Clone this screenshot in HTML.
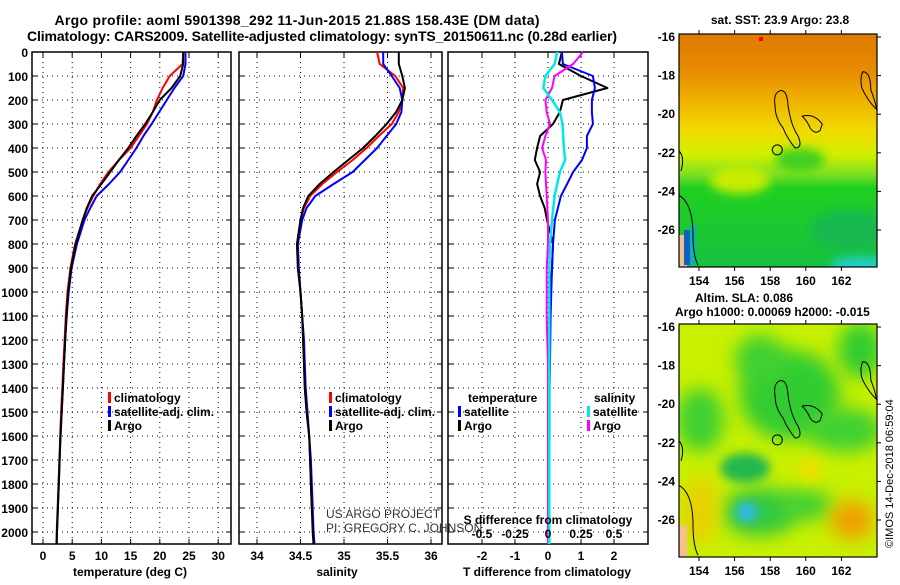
<!DOCTYPE html>
<html><head><meta charset="utf-8"><style>
body{margin:0;background:#fff;}
svg text{font-family:"Liberation Sans",sans-serif;font-weight:bold;font-size:12px;fill:#000;}
</style></head><body>
<svg id="c" width="900" height="580" viewBox="0 0 900 580" xmlns="http://www.w3.org/2000/svg">
<defs>
<filter id="bl" x="-50%" y="-50%" width="200%" height="200%"><feGaussianBlur stdDeviation="9"/></filter>
<filter id="bl2" x="-50%" y="-50%" width="200%" height="200%"><feGaussianBlur stdDeviation="5"/></filter>
<linearGradient id="sst" x1="0" y1="0" x2="0" y2="1">
<stop offset="0" stop-color="#e07a00"/><stop offset="0.15" stop-color="#e68a00"/><stop offset="0.28" stop-color="#f0b000"/>
<stop offset="0.42" stop-color="#f0dc00"/><stop offset="0.52" stop-color="#d0f000"/><stop offset="0.6" stop-color="#80e020"/>
<stop offset="0.66" stop-color="#20d020"/><stop offset="1" stop-color="#18c040"/></linearGradient>
<clipPath id="m1"><rect x="679" y="34" width="198" height="233"/></clipPath>
<clipPath id="m2"><rect x="679" y="324" width="198" height="233"/></clipPath>
</defs>
<text x="297" y="25" text-anchor="middle" style="font-size:14px" textLength="485">Argo profile: aoml 5901398_292 11-Jun-2015 21.88S 158.43E (DM data)</text>
<text x="322" y="41" text-anchor="middle" style="font-size:14px" textLength="590">Climatology: CARS2009. Satellite-adjusted climatology: synTS_20150611.nc (0.28d earlier)</text>
<text x="780" y="24" text-anchor="middle">sat. SST: 23.9 Argo: 23.8</text>
<text x="695" y="302">Altim. SLA: 0.086</text>
<text x="675" y="316">Argo h1000: 0.00069 h2000: -0.015</text>
<text transform="translate(893,548) rotate(-90)" style="font-weight:normal;font-size:11px">©IMOS 14-Dec-2018 06:59:04</text>
<g id="panels"></g>
<g id="maps">
<g clip-path="url(#m1)">
<rect x="679" y="34" width="198" height="233" fill="url(#sst)"/>
<ellipse cx="740" cy="180" rx="30" ry="14" fill="#c8ec00" filter="url(#bl2)"/>
<ellipse cx="850" cy="230" rx="40" ry="20" fill="#14b850" filter="url(#bl2)"/>
<ellipse cx="860" cy="265" rx="30" ry="8" fill="#20d0d0" filter="url(#bl2)"/>
<ellipse cx="800" cy="160" rx="25" ry="12" fill="#40d020" filter="url(#bl2)"/>
<rect x="679" y="235" width="8" height="32" fill="#f4c090"/>
<rect x="684" y="230" width="6" height="35" fill="#1060c0"/>
<rect x="690" y="225" width="6" height="40" fill="#10b0b0"/>
<rect x="759" y="37" width="4" height="4" fill="#ff0000"/>
</g>
<g clip-path="url(#m2)">
<rect x="679" y="324" width="198" height="233" fill="#c8f000"/>
<ellipse cx="790" cy="395" rx="50" ry="45" fill="#30cc30" filter="url(#bl)"/>
<ellipse cx="760" cy="360" rx="25" ry="25" fill="#40d030" filter="url(#bl)"/>
<ellipse cx="860" cy="350" rx="22" ry="28" fill="#30cc30" filter="url(#bl)"/>
<ellipse cx="845" cy="430" rx="38" ry="22" fill="#40d030" filter="url(#bl)"/>
<ellipse cx="700" cy="420" rx="24" ry="32" fill="#40d030" filter="url(#bl)"/>
<ellipse cx="745" cy="468" rx="25" ry="15" fill="#20b850" filter="url(#bl2)"/>
<ellipse cx="760" cy="512" rx="38" ry="24" fill="#30c840" filter="url(#bl)"/>
<ellipse cx="805" cy="505" rx="28" ry="15" fill="#40d030" filter="url(#bl)"/>
<ellipse cx="747" cy="512" rx="11" ry="10" fill="#30b8e8" filter="url(#bl2)"/>
<ellipse cx="852" cy="520" rx="22" ry="20" fill="#f0a000" filter="url(#bl)"/>
<ellipse cx="700" cy="510" rx="18" ry="35" fill="#e8d000" filter="url(#bl)"/>
<ellipse cx="810" cy="470" rx="12" ry="12" fill="#e8e000" filter="url(#bl2)"/>
<rect x="679" y="525" width="8" height="32" fill="#f4c090"/>
</g>
</g>
</svg>
<script>
const depths=[0,50,100,150,200,250,300,350,400,450,500,550,600,650,700,800,900,1000,1100,1200,1300,1400,1500,1600,1700,1800,1900,2000,2050];
const tempArgo=[24,24,23.5,22,20,18.8,17.5,16,14.6,13,11.5,10,8.4,7.5,6.8,5.6,4.8,4.3,4.0,3.8,3.6,3.4,3.2,3.0,2.85,2.7,2.55,2.4,2.35];
const tempClim=[24,23.9,21.7,20.5,19.5,18.8,17.8,16.4,15,13,11.2,9.8,8.6,7.6,6.8,5.5,4.7,4.2,3.9,3.7,3.5,3.3,3.1,2.95,2.8,2.65,2.5,2.35,2.3];
const tempSat=[24.4,24.4,24,22.5,21.2,19.9,18.6,17.2,16,14.6,13.2,11.3,9.2,8.1,7.1,5.8,4.9,4.4,4.05,3.8,3.6,3.4,3.2,3.0,2.85,2.7,2.55,2.4,2.35];
const salArgo=[35.63,35.63,35.67,35.70,35.67,35.6,35.49,35.36,35.22,35.05,34.88,34.72,34.59,34.53,34.5,34.46,34.47,34.5,34.52,34.53,34.54,34.55,34.57,34.6,34.61,34.62,34.63,34.64,34.65];
const salClim=[35.38,35.41,35.59,35.68,35.67,35.63,35.55,35.4,35.26,35.1,34.92,34.75,34.61,34.54,34.5,34.46,34.47,34.5,34.52,34.53,34.54,34.55,34.57,34.6,34.61,34.62,34.63,34.65,34.66];
const salSat=[35.45,35.45,35.55,35.64,35.67,35.66,35.6,35.49,35.38,35.24,35.1,34.88,34.67,34.57,34.52,34.47,34.48,34.5,34.52,34.54,34.55,34.56,34.58,34.6,34.62,34.63,34.64,34.65,34.66];
const dTArgo=[0.42,0.33,1.0,1.8,0.45,0.36,0.15,-0.24,-0.33,-0.4,-0.24,-0.33,-0.24,-0.1,-0.03,0.15,0.12,0.08,0.06,0.05,0.04,0.03,0.03,0.02,0.02,0.02,0.01,0.01,0.01];
const dTSat=[0.42,0.45,1.36,1.42,1.33,1.33,1.36,1.18,1.18,1.03,0.76,0.58,0.39,0.3,0.21,0.15,0.12,0.1,0.08,0.07,0.06,0.05,0.05,0.05,0.04,0.04,0.04,0.04,0.04];
const dSArgo=[0.265,0.19,0.05,0.03,-0.02,-0.01,0.015,-0.02,-0.045,-0.015,-0.02,-0.015,-0.01,-0.005,0,0,-0.01,-0.01,-0.01,-0.005,0,0,0,0,0,0,0,0,0];
const dSCyan=[0.07,0.05,-0.02,-0.035,0.03,0.09,0.11,0.115,0.12,0.13,0.09,0.07,0.05,0.04,0.03,0.015,0.01,0.01,0.01,0.01,0.01,0.01,0.01,0.01,0.01,0.01,0.01,0.01,0.01];
const yTicks=[0,100,200,300,400,500,600,700,800,900,1000,1100,1200,1300,1400,1500,1600,1700,1800,1900,2000];
const tTicks=[0,5,10,15,20,25,30];
const sTicks=[34,34.5,35,35.5,36];
const dTicks=[-2,-1,0,1,2];
const dSTickLabels=["-0.5","-0.25","0","0.25","0.5"];
const lonTicks=[154,156,158,160,162];
const latTicks=[-16,-18,-20,-22,-24,-26];

const NS='http://www.w3.org/2000/svg';
const svg=document.getElementById('c');
const G=document.getElementById('panels');
function el(t,a,p){const e=document.createElementNS(NS,t);for(const k in a)e.setAttribute(k,a[k]);(p||G).appendChild(e);return e;}
const Y=d=>52+d*0.24;
const xT=v=>43+(v)*5.84;
const xS=v=>257+(v-34)*87;
const xD=v=>548+v*33;
const xDS=v=>548+v*132;
const TOP=52,BOT=544;

function frame(l,r,name){
  const f=el('rect',{x:l,y:TOP,width:r-l,height:BOT-TOP,fill:'none',stroke:'#000','stroke-width':1.5});
  
  
  yTicks.forEach(d=>{const g=el('line',{x1:l,x2:r,y1:Y(d),y2:Y(d),stroke:'#000','stroke-dasharray':'1 4','stroke-width':1});
    
    el('line',{x1:l,x2:l+5,y1:Y(d),y2:Y(d),stroke:'#000'});el('line',{x1:r-5,x2:r,y1:Y(d),y2:Y(d),stroke:'#000'});});
}
function vgrid(ticks,fx,labels,ly){
  ticks.forEach((t,i)=>{const x=fx(t);
    const g=el('line',{x1:x,x2:x,y1:TOP,y2:BOT,stroke:'#000','stroke-dasharray':'1 4'});
    
    el('line',{x1:x,x2:x,y1:BOT-5,y2:BOT,stroke:'#000'});el('line',{x1:x,x2:x,y1:TOP,y2:TOP+5,stroke:'#000'});
    const tx=el('text',{x:x,y:ly,'text-anchor':'middle'});tx.textContent=labels?labels[i]:t;
    });
}
function line(vals,fx,color,name,w){
  const pts=vals.map((v,i)=>fx(v).toFixed(1)+','+Y(depths[i]).toFixed(1)).join(' ');
  const p=el('polyline',{points:pts,fill:'none',stroke:color,'stroke-width':w||2,'stroke-linejoin':'round'});
  
  
}
function txt(s,x,y,a,name,style){const t=el('text',{x:x,y:y,'text-anchor':a||'start'});if(style)t.setAttribute('style',style);t.textContent=s;
  return t;}
function legend(items,x,y){
  items.forEach((it,i)=>{const yy=y+i*14;
    const b=el('rect',{x:x,y:yy-10,width:3,height:11,fill:it[1]});
    
    txt(it[0],x+6,yy,'start','legend-entry');});
}
yTicks.forEach(d=>txt(String(d),28,Y(d)+5,'end','y-tick-label'));
frame(32,231,'temperature-panel');
vgrid(tTicks,xT,null,560);
line(tempClim,xT,'#ff0000','climatology-temperature-line');
line(tempSat,xT,'#0000ff','satellite-temperature-line');
line(tempArgo,xT,'#000000','argo-temperature-line');
legend([['climatology','#ff0000'],['satellite-adj. clim.','#0000ff'],['Argo','#000']],108,402);
txt('temperature (deg C)',130,576,'middle','x-axis-title');
frame(239,442,'salinity-panel');
vgrid(sTicks,xS,null,560);
line(salClim,xS,'#ff0000','climatology-salinity-line');
line(salSat,xS,'#0000ff','satellite-salinity-line');
line(salArgo,xS,'#000000','argo-salinity-line');
legend([['climatology','#ff0000'],['satellite-adj. clim.','#0000ff'],['Argo','#000']],329,402);
txt('salinity',337,576,'middle','x-axis-title');
txt('US ARGO PROJECT',326,518,'start','project-credit','font-weight:normal;fill:#333');
txt('PI: GREGORY C. JOHNSON',326,532,'start','pi-credit','font-weight:normal;fill:#333');
frame(448,648,'difference-panel');
vgrid(dTicks,xD,null,560);
line(dTArgo,xD,'#000000','argo-temp-diff-line');
line(dTSat,xD,'#0000ff','satellite-temp-diff-line');
line(dSArgo,xDS,'#ff00ff','argo-sal-diff-line');
line(dSCyan,xDS,'#00e8e8','satellite-sal-diff-line',2.5);
dSTickLabels.forEach((s,i)=>txt(s,xD(dTicks[i]),538,'middle','s-tick-label'));
txt('S difference from climatology',548,524,'middle','s-axis-title');
txt('temperature',468,402,'start','legend-title');
txt('salinity',594,402,'start','legend-title');
legend([['satellite','#0000ff'],['Argo','#000']],458,416);
legend([['satellite','#00e8e8'],['Argo','#ff00ff']],587,416);
txt('T difference from climatology',547,576,'middle','x-axis-title');
function mapAxes(top,name){
  const f=el('rect',{x:679,y:top,width:198,height:233,fill:'none',stroke:'#000','stroke-width':1.2},svg);
  
  const lx=v=>699+(v-154)*17.8, ly=v=>top+3+(-16-v)*19.3;
  lonTicks.forEach(v=>{el('line',{x1:lx(v),x2:lx(v),y1:top-4,y2:top,stroke:'#000'},svg);el('line',{x1:lx(v),x2:lx(v),y1:top+233,y2:top+237,stroke:'#000'},svg);
    const t=el('text',{x:lx(v),y:top+251,'text-anchor':'middle'},svg);t.textContent=v;
    });
  latTicks.forEach(v=>{el('line',{x1:877,x2:881,y1:ly(v),y2:ly(v),stroke:'#000'},svg);
    const t=el('text',{x:675,y:ly(v)+4,'text-anchor':'end'},svg);t.textContent=v;
    });
  const isl=`M${lx(158.5)},${ly(-18.8)} q8,-3 9,15 q3,20 10,30 q5,12 -3,12 q-8,-10 -12,-20 q-8,-10 -8,-22 q-2,-12 4,-15z M${lx(159.8)},${ly(-20.1)} q12,-3 20,8 l-2,6 q-5,5 -10,-2 q-3,-7 -8,-12z M${lx(163.2)},${ly(-17.8)} q8,0 8,18 q4,10 6,20 q-10,-10 -15,-22 q-2,-10 1,-16z M679,${ly(-21.9)} q6,6 2,20 M679,${ly(-24.2)} q14,8 14,40 q0,20 5,30`;
  const c=el('path',{d:isl,fill:'none',stroke:'#000','stroke-width':1},svg);
  
  const ci=el('circle',{cx:lx(158.4),cy:ly(-21.85),r:5,fill:'none',stroke:'#000'},svg);
  
}
mapAxes(34,'sst-map-frame');
mapAxes(324,'sla-map-frame');
</script>
</body></html>
